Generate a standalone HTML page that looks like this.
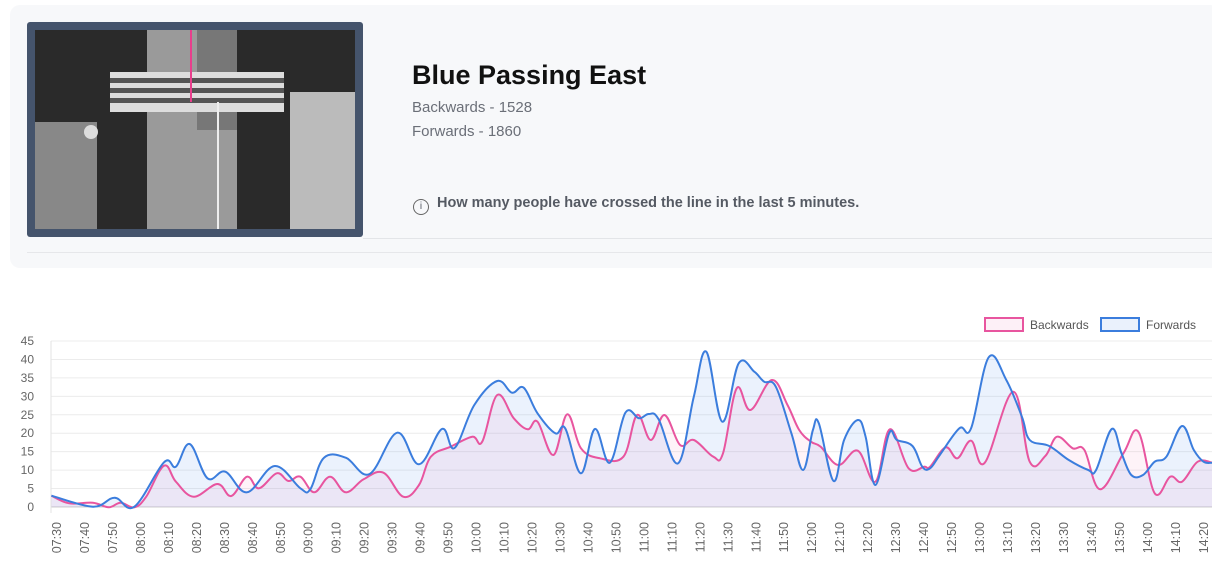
<!DOCTYPE html>
<html><head><meta charset="utf-8">
<style>
html,body{margin:0;padding:0;background:#fff;width:1212px;height:569px;overflow:hidden;font-family:"Liberation Sans",sans-serif;}
.card{position:absolute;left:10px;top:5px;width:1210px;height:263px;background:#f7f8fa;border-radius:10px;}
.img{position:absolute;left:27px;top:22px;width:336px;height:215px;background:#45546c;border-radius:3px;}
.title{position:absolute;left:412px;top:60px;font-size:27px;font-weight:bold;color:#111;}
.sub{position:absolute;left:412px;font-size:15px;color:#6b6f78;}
.info{position:absolute;left:413px;top:195px;font-size:14.5px;color:#555a63;font-weight:bold;}
</style></head><body>
<div class="card"></div>
<div style="position:absolute;left:363px;top:238px;width:849px;height:1px;background:#e3e5e8"></div>
<div style="position:absolute;left:27px;top:252px;width:1185px;height:1px;background:#e6e7ea"></div>
<div class="img">
<svg width="336" height="215" style="position:absolute;left:0;top:0">
<rect x="8" y="8" width="320" height="199" fill="#2a2a2a"/>
<rect x="8" y="100" width="62" height="107" fill="#888"/>
<rect x="120" y="8" width="90" height="199" fill="#9a9a9a"/>
<rect x="170" y="8" width="40" height="100" fill="#777"/>
<rect x="263" y="70" width="65" height="137" fill="#bbb"/>
<rect x="83" y="50" width="174" height="40" fill="#ddd"/>
<rect x="83" y="56" width="174" height="5" fill="#555"/>
<rect x="83" y="66" width="174" height="5" fill="#555"/>
<rect x="83" y="76" width="174" height="5" fill="#555"/>
<rect x="163" y="8" width="2" height="72" fill="#e83e8c"/>
<rect x="190" y="80" width="2" height="127" fill="#eee"/>
<circle cx="64" cy="110" r="7" fill="#ddd"/>
</svg>
</div>
<div class="title">Blue Passing East</div>
<div class="sub" style="top:99px">Backwards - 1528</div>
<div class="sub" style="top:123px">Forwards - 1860</div>
<div class="info"><span style="display:inline-block;width:14px;height:14px;border:1.3px solid #666;border-radius:50%;font-size:10px;text-align:center;line-height:14px;vertical-align:-2px;margin-right:8px;font-weight:normal">i</span>How many people have crossed the line in the last 5 minutes.</div>

<svg id="c" width="1212" height="569" style="position:absolute;left:0;top:0" font-family="Liberation Sans, sans-serif">
<g id="grid"></g>
<path id="bf" fill="rgba(54,132,235,0.10)"/>
<path id="pf" fill="rgba(235,80,160,0.07)"/>
<path id="pl" fill="none" stroke="#e8559f" stroke-width="2"/>
<path id="bl" fill="none" stroke="#3b7ddd" stroke-width="2"/>
<rect x="985" y="318" width="38" height="13" fill="#fdf0f7" stroke="#e8559f" stroke-width="2"/>
<text x="1030" y="329" font-size="12" fill="#555">Backwards</text>
<rect x="1101" y="318" width="38" height="13" fill="#eaf1fc" stroke="#3b7ddd" stroke-width="2"/>
<text x="1146" y="329" font-size="12" fill="#555">Forwards</text>
</svg>
<script>
var B=[[51.4,495.7],[92.9,506.7],[114.6,497.7],[134.4,506.7],[164,462.3],[175.9,466.7],[189.7,444],[207.5,478.3],[225.3,471.7],[247,492.3],[274.7,466],[300.4,488.3],[310.3,489.3],[324,457.7],[345.8,457.7],[369.6,474],[397.2,432.7],[419,464.3],[441.9,429],[454.5,448],[474.3,405],[497.2,381],[511.9,392.7],[523.7,387.7],[537.5,413.3],[555.3,433.3],[565.2,428.3],[581,473.3],[594.9,429],[609.8,462.7],[625.4,412.7],[639.1,418.3],[648.8,414],[658.6,419.3],[678.1,463.3],[693.8,396.7],[706.3,351.7],[722.3,421.7],[738.7,363.3],[754.3,371.7],[764.1,381.7],[775.8,386.7],[791.4,433.3],[803.1,470],[812.9,430],[818.8,423.3],[833.6,481],[844.1,440],[857.8,420],[865.6,436.7],[875.4,485],[889.1,433.3],[896.9,440],[912.5,446],[922.3,466.7],[930.1,468.3],[939.8,455],[959.4,428.3],[971.1,428.3],[988.7,357.3],[1006.3,380],[1021.9,416.7],[1029.7,440],[1049.2,446],[1068.8,460],[1088.3,470],[1096.1,470],[1111.7,429],[1121.5,453.3],[1131.3,475],[1143,475],[1154.7,461.7],[1166.4,456.7],[1182,426],[1193.8,450],[1203.5,461.7],[1212.5,462.7]];
var P=[[51.4,495.7],[69.2,503.3],[92.9,502.7],[108.7,507.3],[120.6,502.7],[134.4,507.3],[146.2,496.7],[164,465.7],[175.9,481.7],[193.7,496.7],[217.4,484],[231.2,496],[247,476.7],[258.9,488.3],[276.7,473.3],[288.5,481],[300.4,476.7],[314.2,492.3],[330,476.7],[345.8,492.3],[363.6,479.3],[383.4,472.7],[403.2,496.7],[419,485],[430.8,456.7],[450.6,446.7],[472.3,436.7],[482.2,441.7],[497.2,395],[513.8,418.3],[527.7,429.3],[537.5,421.7],[553.4,455],[567.2,414.3],[581,448.3],[600,458.3],[623.4,456.7],[637.1,415],[650.8,440],[664.5,415],[680.1,445],[693.8,440],[713.3,456.7],[723,453.3],[736.7,388.3],[750.4,410],[771.9,380],[787.5,405],[799.2,430],[810.9,441.7],[820.7,446.7],[838.3,465],[857.8,450.7],[875.4,481.7],[889.8,429.3],[908.6,468.3],[924.2,466.7],[930.1,466.7],[945.7,447.3],[957.4,458.3],[971.1,440.7],[984.8,462.7],[1013.3,391.7],[1029.7,461.7],[1045.3,456],[1057,436.7],[1072.7,448.3],[1084.4,450],[1100,489.3],[1123.4,453.3],[1138.3,431.7],[1154.7,493.3],[1170.3,476.7],[1182,481.7],[1197.7,461.7],[1212.5,462.7]];
function cr(p){var d="M"+p[0][0]+","+p[0][1];for(var i=0;i<p.length-1;i++){var a=p[i-1]||p[i],b=p[i],c=p[i+1],e=p[i+2]||c;var t=0.18;d+=" C"+(b[0]+(c[0]-a[0])*t)+","+(b[1]+(c[1]-a[1])*t)+" "+(c[0]-(e[0]-b[0])*t)+","+(c[1]-(e[1]-b[1])*t)+" "+c[0]+","+c[1];}return d;}
var Y0=507,db=cr(B),dp=cr(P);
document.getElementById('bl').setAttribute('d',db);
document.getElementById('pl').setAttribute('d',dp);
document.getElementById('bf').setAttribute('d',db+" L1212.5,"+Y0+" L51.4,"+Y0+"Z");
document.getElementById('pf').setAttribute('d',dp+" L1212.5,"+Y0+" L51.4,"+Y0+"Z");
var g=document.getElementById('grid'),h="";
for(var k=0;k<=9;k++){var y=507-k*166/9;h+='<line x1="51" x2="1212" y1="'+y+'" y2="'+y+'" stroke="'+(k==0?'#ccc':'#ececec')+'" stroke-width="1"/>';h+='<text x="34" y="'+(y+4)+'" font-size="12" fill="#666" text-anchor="end">'+(k*5)+'</text>';}
h+='<line x1="51" x2="51" y1="341" y2="513" stroke="#e3e3e3"/>';
for(var i=0;i<42;i++){var m=450+i*10,hh=Math.floor(m/60),mm=m%60;var lab=(hh<10?'0':'')+hh+':'+(mm<10?'0':'')+mm;var x=57+i*27.97;
h+='<text transform="translate('+(x+4)+',522) rotate(-90)" font-size="12.5" fill="#666" text-anchor="end">'+lab+'</text>';}
g.innerHTML=h;
</script>
</body></html>
